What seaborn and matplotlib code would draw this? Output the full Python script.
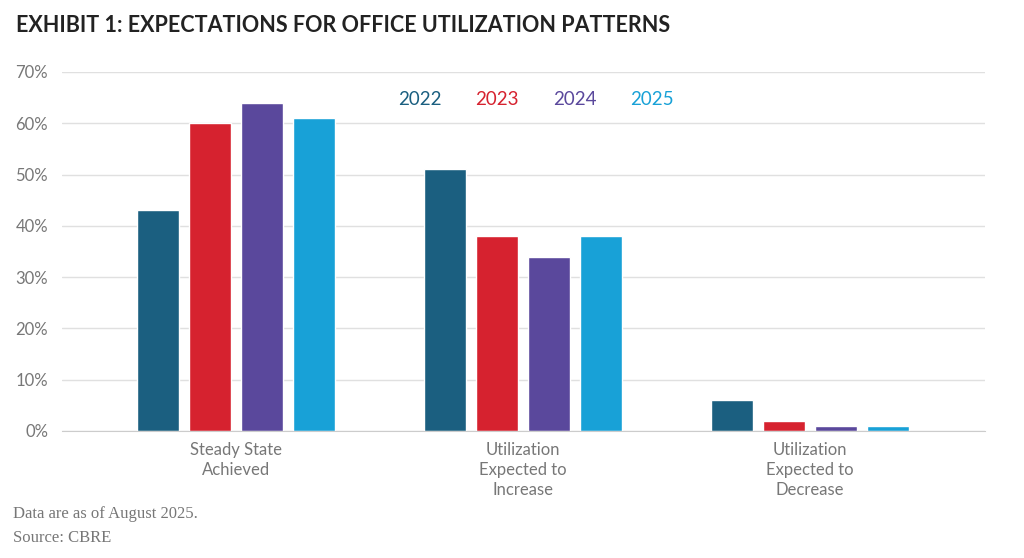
import matplotlib
matplotlib.use("Agg")
import matplotlib.pyplot as plt
import seaborn as sns
import pandas as pd

categories = ["Steady State\nAchieved", "Utilization\nExpected to\nIncrease", "Utilization\nExpected to\nDecrease"]
years = ["2022", "2023", "2024", "2025"]
v2022 = [43, 51, 6]
v2023 = [60, 38, 2]
v2024 = [64, 34, 1]
v2025 = [61, 38, 1]
colors = ["#1b5f80", "#d6222f", "#5a489c", "#18a1d7"]

rows = []
for y, vals in zip(years, [v2022, v2023, v2024, v2025]):
    for c, v in zip(categories, vals):
        rows.append({"cat": c, "year": y, "val": v})
df = pd.DataFrame(rows)

sns.set_style("white")
plt.rcParams["font.family"] = ["Lato", "DejaVu Sans"]
fig = plt.figure(figsize=(10.24, 5.58), dpi=100)
ax = fig.add_axes([0.0605, 0.2276, 0.9015, 0.6434])
sns.barplot(data=df, x="cat", y="val", hue="year", palette=colors, width=0.725, gap=0.19,
            ax=ax, legend=False, saturation=1)
ax.set_ylim(0, 70)
ax.set_xlim(-0.606, 2.61)
ax.set_yticks(range(0, 71, 10))
ax.set_yticklabels([f"{t}%" for t in range(0, 71, 10)], color="#777777", fontsize=12)
ax.tick_params(axis="x", colors="#777777", labelsize=12, length=0, pad=8)
ax.tick_params(axis="y", length=0, pad=10)
for lbl in ax.get_xticklabels():
    lbl.set_linespacing(1.3)
ax.set_xlabel("")
ax.set_ylabel("")
ax.yaxis.grid(True, color="#e0e0e0", linewidth=1)
ax.set_axisbelow(True)
for s in ["top", "right", "left"]:
    ax.spines[s].set_visible(False)
ax.spines["bottom"].set_color("#cccccc")

for i, (y, c) in enumerate(zip(years, colors)):
    fig.text(0.41 + i * 0.0755, 0.822, y, color=c, fontsize=13.5, ha="center", va="center")

fig.text(0.016, 0.955, "EXHIBIT 1: EXPECTATIONS FOR OFFICE UTILIZATION PATTERNS",
         fontsize=15.5, fontweight="bold", color="#222222", va="center")
fig.text(0.013, 0.078, "Data are as of August 2025.", family="Liberation Serif",
         fontsize=12, color="#777777", va="center")
fig.text(0.013, 0.035, "Source: CBRE", family="Liberation Serif",
         fontsize=12, color="#777777", va="center")
fig.savefig("out.png", dpi=100)
